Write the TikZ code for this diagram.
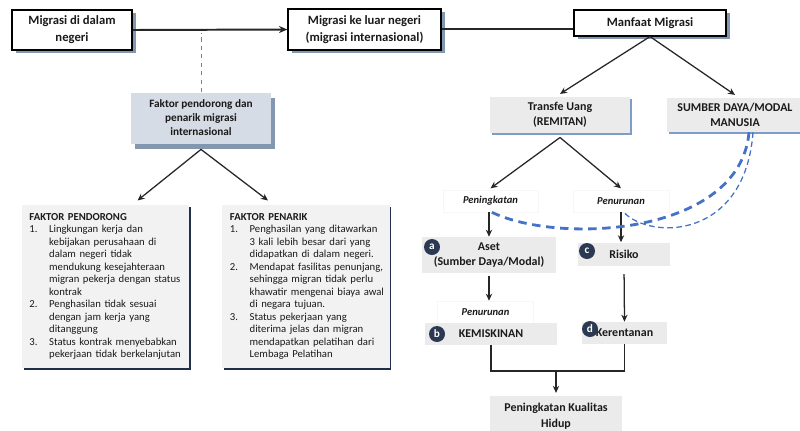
\documentclass[tikz,border=0pt]{standalone}
\usepackage{fontspec}
\setmainfont{Carlito}
\usetikzlibrary{arrows.meta,shadows}
\definecolor{shadowgray}{HTML}{8497B0}
\definecolor{faktorfill}{HTML}{D6DCE5}
\definecolor{listfill}{HTML}{F2F2F2}
\definecolor{listshadow}{HTML}{1F2E4A}
\definecolor{boxfill}{HTML}{EBEBEB}
\definecolor{lineblue}{HTML}{7F9CC8}
\definecolor{badgenavy}{HTML}{2B3A52}
\definecolor{dashblue}{HTML}{4472C4}
\definecolor{ink}{HTML}{1A1A1A}
\tikzset{
  topbox/.style={draw=black, line width=0.8pt, fill=white, align=center, inner sep=0pt,
    text=ink, font=\bfseries\fontsize{9}{12}\selectfont,
    general shadow={fill=shadowgray, shadow xshift=2.8pt, shadow yshift=-2.2pt}},
  faktorbox/.style={fill=faktorfill, align=center, inner sep=0pt, text=ink,
    font=\bfseries\fontsize{8}{10}\selectfont,
    general shadow={fill=shadowgray, shadow xshift=3pt, shadow yshift=-4pt}},
  listbox/.style={fill=listfill, align=left, text width=3.8cm, inner xsep=0.1875cm,
    minimum height=4.075cm, text=ink, font=\fontsize{7.6}{8.9}\selectfont,
    general shadow={fill=listshadow, shadow xshift=1.4pt, shadow yshift=-1.4pt}},
  greybox/.style={fill=boxfill, align=center, inner sep=0pt, text=ink,
    font=\bfseries\fontsize{8.5}{11}\selectfont},
  remitbox/.style={greybox, general shadow={fill=lineblue, shadow xshift=1.4pt, shadow yshift=-1.6pt}},
  labelbox/.style={draw=gray!6, fill=white, inner sep=0pt, text=ink,
    font=\bfseries\itshape\fontsize{7.5}{9}\selectfont},
  badge/.style={circle, fill=badgenavy, text=white, inner sep=0pt, minimum size=0.4cm,
    font=\bfseries\fontsize{8}{9}\selectfont},
  arr/.style={-{Stealth[length=5pt,width=4.5pt]}, line width=0.9pt, draw=black!85},
  mainline/.style={line width=1.4pt, draw=black!85},
}
\begin{document}
\begin{tikzpicture}[x=0.025cm, y=-0.025cm]
\useasboundingbox (0,0) rectangle (800,430);

% top row
\node[topbox, minimum width=3cm, minimum height=1cm] (dalam) at (72,30) {Migrasi di dalam\\negeri};
\node[topbox, minimum width=3.825cm, minimum height=1.025cm] (luar) at (364.5,29.5) {Migrasi ke luar negeri\\(migrasi internasional)};
\node[topbox, minimum width=3.8cm, minimum height=0.65cm] (manfaat) at (650,23) {Manfaat Migrasi};
\draw[mainline, -{Stealth[length=6pt,width=5pt]}] (dalam.east) -- (luar.west);
\draw[mainline] (luar.east |- 0,29) -- (manfaat.west |- 0,29);

% left side
\node[faktorbox, minimum width=3.5cm, minimum height=1.275cm] (faktor) at (201,118) {Faktor pendorong dan\\penarik migrasi\\internasional};
\draw[dashed, gray, line width=0.7pt] (faktor.north) -- (faktor.north |- 0,33);

\node[listbox] (pendorong) at (105.5,286.5) {%
  \begin{tabular}{@{}p{14pt}@{}l@{}}
  \multicolumn{2}{@{}l@{}}{\bfseries FAKTOR PENDORONG}\\
  1. & Lingkungan kerja dan\\
     & kebijakan perusahaan di\\
     & dalam negeri tidak\\
     & mendukung kesejahteraan\\
     & migran pekerja dengan status\\
     & kontrak\\
  2. & Penghasilan tidak sesuai\\
     & dengan jam kerja yang\\
     & ditanggung\\
  3. & Status kontrak menyebabkan\\
     & pekerjaan tidak berkelanjutan
  \end{tabular}};
\node[listbox] (penarik) at (306,286.5) {%
  \begin{tabular}{@{}p{14pt}@{}l@{}}
  \multicolumn{2}{@{}l@{}}{\bfseries FAKTOR PENARIK}\\
  1. & Penghasilan yang ditawarkan\\
     & 3 kali lebih besar dari yang\\
     & didapatkan di dalam negeri.\\
  2. & Mendapat fasilitas penunjang,\\
     & sehingga migran tidak perlu\\
     & khawatir mengenai biaya awal\\
     & di negara tujuan.\\
  3. & Status pekerjaan yang\\
     & diterima jelas dan migran\\
     & mendapatkan pelatihan dari\\
     & Lembaga Pelatihan
  \end{tabular}};
\draw[arr] ([yshift=-4pt]faktor.south) -- ([xshift=0.8cm, yshift=3pt]pendorong.north);
\draw[arr] ([yshift=-4pt]faktor.south) -- ([xshift=-0.95cm, yshift=3pt]penarik.north);

% right side
\node[remitbox, minimum width=3.5cm, minimum height=0.9cm] (remitan) at (560,115) {Transfe Uang\\(REMITAN)};
\node[remitbox, minimum width=3.4cm, minimum height=0.85cm] (sdm) at (735,115) {SUMBER DAYA/MODAL\\MANUSIA};
\draw[arr] (manfaat.south) -- ([yshift=2pt]remitan.north);
\draw[arr] (manfaat.south) -- ([yshift=2pt]sdm.north);

\node[labelbox, minimum width=2.375cm, minimum height=0.55cm] (naik) at (490.5,201) {Peningkatan};
\node[labelbox, minimum width=2.4cm, minimum height=0.55cm] (turun) at (621,201) {Penurunan};
\draw[arr] ([yshift=-3pt]remitan.south) -- ([yshift=1pt]naik.north);
\draw[arr] ([yshift=-3pt]remitan.south) -- ([yshift=1pt]turun.north);

\node[greybox, minimum width=3.325cm, minimum height=0.9cm] (aset) at (489,255) {Aset\\(Sumber Daya/Modal)};
\node[greybox, minimum width=2.3cm, minimum height=0.575cm] (risiko) at (624,254) {Risiko};
\node[labelbox, minimum width=2.4cm, minimum height=0.55cm] (turun2) at (485.5,312) {Penurunan};
\node[greybox, minimum width=3.3cm, minimum height=0.55cm] (miskin) at (491,334) {KEMISKINAN};
\node[greybox, minimum width=2.125cm, minimum height=0.55cm] (rentan) at (624.5,333) {Kerentanan};
\node[greybox, minimum width=3.3cm, minimum height=1cm] (hidup) at (556,416) {Peningkatan Kualitas\\Hidup};

\node[badge] (ba) at (432,247) {a};
\node[badge] (bb) at (437,334) {b};
\node[badge] (bc) at (587,251) {c};
\node[badge] (bd) at (590,329) {d};

\draw[arr] (naik.south -| aset.north) -- (aset.north);
\draw[arr] (turun.south) -- (turun.south |- risiko.north);
\draw[arr, shorten <=2pt] (aset.south) -- (aset.south |- turun2.north);
\draw[arr, shorten <=6pt] (risiko.south) -- (rentan.north);

\coordinate (gabung) at (556,371);
\draw[mainline] (miskin.south) -- (miskin.south |- gabung) -- (rentan.south |- gabung) -- (rentan.south);
\draw[arr, shorten >=2pt] (gabung) -- (hidup.north);

% dashed links from SUMBER DAYA
\draw[dashblue, line width=2pt, dash pattern=on 6pt off 4pt] ([xshift=0.35cm]sdm.south) .. controls (740,235) and (560,245) .. ([xshift=2pt]naik.south -| aset.north);
\draw[dashblue, line width=0.9pt, dash pattern=on 4pt off 2.5pt] ([xshift=0.45cm]sdm.south) .. controls (745,240) and (650,240) .. ([xshift=2pt]turun.south);
\end{tikzpicture}
\end{document}
